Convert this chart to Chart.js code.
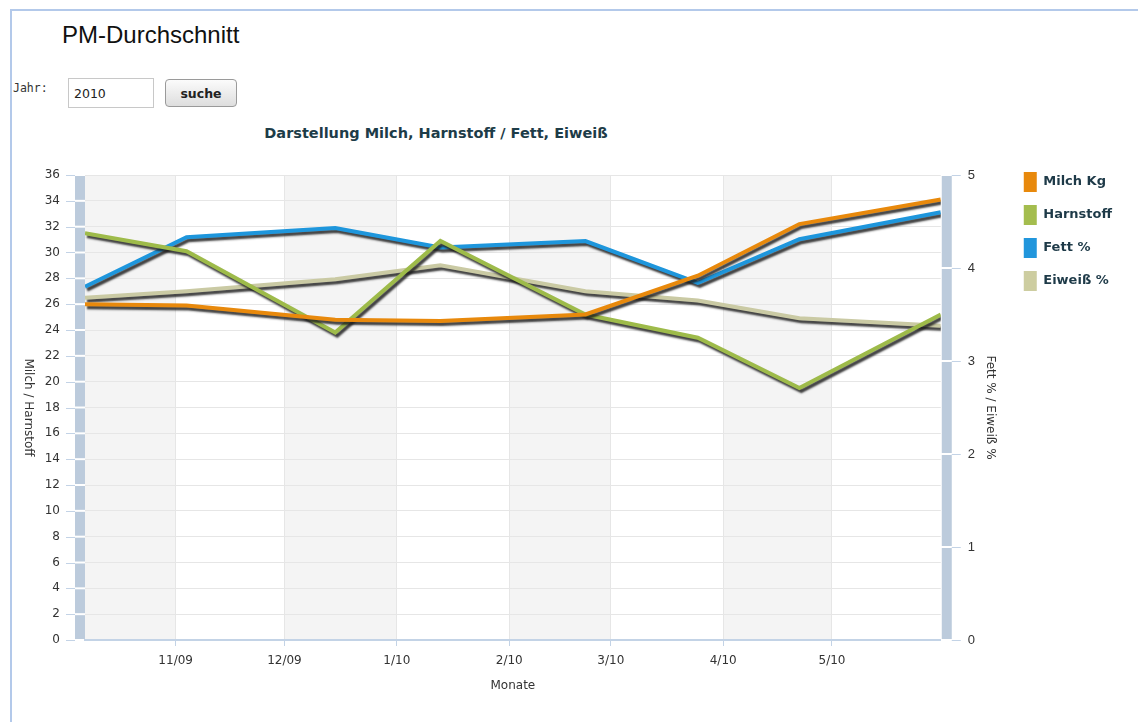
<!DOCTYPE html>
<html lang="de">
<head>
<meta charset="utf-8">
<title>PM-Durchschnitt</title>
<script src="https://cdn.jsdelivr.net/npm/chart.js@4.4.1/dist/chart.umd.min.js"></script>
<style>
  body { margin: 0; background: #fff; font-family: "DejaVu Sans", Verdana, sans-serif; }
  #rahmen { position: absolute; left: 10px; top: 9px; width: 1128px; height: 713px;
            border-left: 2px solid #b3c9ea; border-top: 2px solid #b3c9ea; }
  h1 { position: absolute; left: 62px; top: 21px; margin: 0; font: normal 24px "Liberation Sans", Arial, sans-serif; color: #111; }
  #jahrLabel { position: absolute; left: 13px; top: 81px; font: 11.5px "DejaVu Sans Mono", monospace; color: #333; }
  #jahr { position: absolute; left: 68px; top: 78px; width: 86px; height: 30px; box-sizing: border-box;
          border: 1px solid #c8c8c8; padding: 0 0 0 5px; font: 12.5px "DejaVu Sans", sans-serif; color: #222; }
  #suche { position: absolute; left: 165px; top: 79px; width: 72px; height: 28px; border: 1px solid #9a9a9a;
           border-radius: 4px; background: linear-gradient(#fbfbfb, #dedede); font: bold 12.5px "DejaVu Sans", sans-serif; color: #222; }
  #titel { position: absolute; left: 186px; top: 125px; width: 500px; text-align: center;
           font: bold 14.5px "DejaVu Sans", sans-serif; color: #1d3c48; }
  #box { position: absolute; left: 0; top: 150px; width: 1138px; height: 550px; }
</style>
</head>
<body>
<div id="rahmen"></div>
<h1>PM-Durchschnitt</h1>
<span id="jahrLabel">Jahr:</span>
<input id="jahr" type="text" value="2010">
<button id="suche">suche</button>
<div id="titel">Darstellung Milch, Harnstoff / Fett, Eiweiß</div>
<div id="box"><canvas id="mycanvas"></canvas></div>

<script>
// Messtage der Probemelkungen und Werte
var messTage = ['2009-10-07', '2009-11-04', '2009-12-15', '2010-01-13', '2010-02-22', '2010-03-25', '2010-04-22', '2010-05-31'];
var milchKg = [26.0, 25.9, 24.8, 24.7, 25.2, 28.2, 32.2, 34.1];
var harnstoff = [31.5, 30.1, 23.8, 30.9, 25.2, 23.4, 19.5, 25.2];
var fett = [3.80, 4.33, 4.43, 4.22, 4.29, 3.84, 4.31, 4.60];
var eiweiss = [3.68, 3.75, 3.88, 4.03, 3.75, 3.65, 3.46, 3.38];
var monatsTicks = ['11/09', '12/09', '1/10', '2/10', '3/10', '4/10', '5/10'];
var achseLinks = 'Milch / Harnstoff';

function tagNr(s) {
    var t = s.split('-');
    return Date.UTC(+t[0], t[1] - 1, +t[2]) / 864e5;
}
function monatNr(lbl) {
    var t = lbl.split('/');
    return Date.UTC(2000 + +t[1], t[0] - 1, 1) / 864e5;
}
var xWerte = messTage.map(tagNr);
var tickWerte = monatsTicks.map(monatNr);

function punkte(werte) {
    return werte.map(function(v, i) { return {x: xWerte[i], y: v}; });
}

var achsFont = {family: '"DejaVu Sans", Verdana, sans-serif', size: 12};

// graue Monatsstreifen
var hintergrund = {
    id: 'hintergrund',
    beforeDraw: function(chart) {
        var ctx = chart.ctx, a = chart.chartArea, x = chart.scales.x;
        var grenzen = [x.min].concat(tickWerte, [x.max]);
        ctx.save();
        ctx.fillStyle = '#f4f4f4';
        for (var i = 0; i < grenzen.length - 1; i += 2) {
            var x0 = x.getPixelForValue(grenzen[i]);
            var x1 = x.getPixelForValue(grenzen[i + 1]);
            ctx.fillRect(x0, a.top, x1 - x0, a.bottom - a.top);
        }
        ctx.restore();
    }
};

function balken(ctx, scale, x0, tick0, tick1) {
    var t = scale.ticks;
    ctx.fillStyle = '#bccbdc';
    for (var i = 0; i < t.length - 1; i++) {
        var yu = scale.getPixelForValue(t[i].value);
        var yo = scale.getPixelForValue(t[i + 1].value);
        ctx.fillRect(x0, yo + 1, 10, yu - yo - 2);
    }
    ctx.strokeStyle = '#c3d3e6';
    ctx.lineWidth = 1;
    t.forEach(function(tk) {
        var y = Math.round(scale.getPixelForValue(tk.value)) + 0.5;
        ctx.beginPath();
        ctx.moveTo(tick0, y);
        ctx.lineTo(tick1, y);
        ctx.stroke();
    });
}

// Achsenbalken links / rechts und linke Achsenbeschriftung
var achsen = {
    id: 'achsen',
    afterDraw: function(chart) {
        var ctx = chart.ctx, a = chart.chartArea;
        ctx.save();
        balken(ctx, chart.scales.y, a.left - 10, a.left - 19, a.left - 10);
        balken(ctx, chart.scales.y1, a.right + 1, a.right + 11, a.right + 20);
        ctx.translate(28, (a.top + a.bottom) / 2);
        ctx.rotate(Math.PI / 2);
        ctx.textAlign = 'center';
        ctx.textBaseline = 'middle';
        ctx.font = '12px "DejaVu Sans", Verdana, sans-serif';
        ctx.fillStyle = '#333';
        ctx.fillText(achseLinks, 0, 0);
        ctx.restore();
    }
};

var schatten = {
    id: 'schatten',
    beforeDatasetDraw: function(chart) {
        var c = chart.ctx;
        c.save();
        c.shadowColor = 'rgba(30, 30, 30, 0.85)';
        c.shadowBlur = 2;
        c.shadowOffsetX = 2;
        c.shadowOffsetY = 3;
    },
    afterDatasetDraw: function(chart) {
        chart.ctx.restore();
    }
};

var chartdata = {
    datasets: [
        {
            label: 'Milch Kg',
            data: punkte(milchKg),
            yAxisID: 'y',
            borderColor: '#e8890c',
            backgroundColor: '#e8890c',
            borderWidth: 4,
            pointRadius: 0,
            tension: 0
        },
        {
            label: 'Harnstoff',
            data: punkte(harnstoff),
            yAxisID: 'y',
            borderColor: '#9ebb4a',
            backgroundColor: '#a4bd4e',
            borderWidth: 4,
            pointRadius: 0,
            tension: 0
        },
        {
            label: 'Fett %',
            data: punkte(fett),
            yAxisID: 'y1',
            borderColor: '#1e96dc',
            backgroundColor: '#2196dc',
            borderWidth: 4,
            pointRadius: 0,
            tension: 0
        },
        {
            label: 'Eiweiß %',
            data: punkte(eiweiss),
            yAxisID: 'y1',
            borderColor: '#cacaa4',
            backgroundColor: '#cdcda0',
            borderWidth: 4,
            pointRadius: 0,
            tension: 0
        }
    ]
};

var ctx = document.getElementById('mycanvas');

var GenericGraph = new Chart(ctx, {
    type: 'line',
    data: chartdata,
    plugins: [hintergrund, schatten, achsen],
    options: {
        responsive: true,
        maintainAspectRatio: false,
        animation: false,
        layout: {padding: {top: 9, right: 16, left: 0, bottom: 0}},
        plugins: {
            tooltip: {enabled: false},
            legend: {
                position: 'right',
                align: 'start',
                labels: {
                    boxWidth: 13,
                    boxHeight: 20,
                    padding: 13,
                    color: '#1e3a48',
                    font: {family: '"DejaVu Sans", Verdana, sans-serif', size: 13, weight: 'bold'},
                    generateLabels: function(chart) {
                        return Chart.defaults.plugins.legend.labels.generateLabels(chart).map(function(it) {
                            it.lineWidth = 0;
                            return it;
                        });
                    }
                }
            }
        },
        scales: {
            x: {
                type: 'linear',
                min: xWerte[0],
                max: xWerte[xWerte.length - 1],
                afterBuildTicks: function(s) {
                    s.ticks = tickWerte.map(function(v) { return {value: v}; });
                },
                afterFit: function(s) { s.height = 60; },
                grid: {color: '#e6e6e6', tickColor: '#c3d3e6', tickLength: 6},
                border: {color: '#c3d3e6', width: 2},
                ticks: {
                    padding: 8,
                    color: '#333',
                    font: achsFont,
                    maxRotation: 0,
                    autoSkip: false,
                    callback: function(v, i) { return monatsTicks[i]; }
                },
                title: {display: true, text: 'Monate', color: '#333', font: achsFont, padding: {top: 0, bottom: 7}}
            },
            oben: {
                type: 'linear',
                position: 'top',
                grid: {display: false},
                border: {display: false},
                ticks: {display: false},
                afterFit: function(s) { s.height = 16; }
            },
            y: {
                position: 'left',
                min: 0,
                max: 36,
                ticks: {stepSize: 2, padding: 0, color: '#333', font: achsFont},
                grid: {color: '#e6e6e6', tickLength: 25, tickColor: 'rgba(0,0,0,0)'},
                border: {display: false},
                afterFit: function(s) { s.width = 85; }
            },
            y1: {
                position: 'right',
                min: 0,
                max: 5,
                ticks: {stepSize: 1, padding: 0, color: '#333',
                        font: {family: '"Liberation Sans", Arial, sans-serif', size: 13}},
                grid: {drawOnChartArea: false, tickLength: 27, tickColor: 'rgba(0,0,0,0)'},
                border: {display: false},
                title: {display: true, text: 'Fett % / Eiweiß %', color: '#333', font: achsFont, padding: {top: 13, bottom: 0}},
                afterFit: function(s) { s.width = 70; }
            }
        }
    }
});
</script>
</body>
</html>
